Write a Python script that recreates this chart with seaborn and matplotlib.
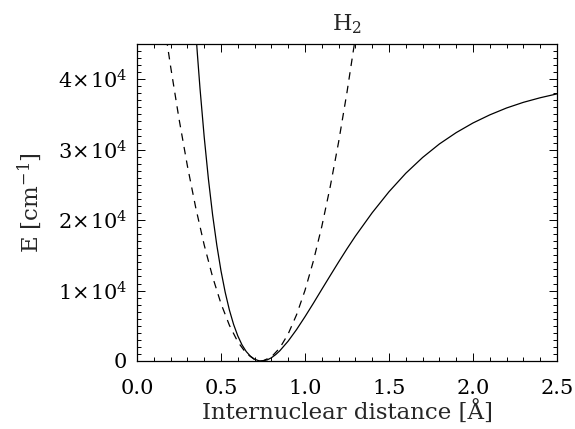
import matplotlib
matplotlib.use("Agg")
import matplotlib.pyplot as plt
from matplotlib.ticker import MultipleLocator, FixedLocator, FixedFormatter
import seaborn as sns
import pandas as pd

# Solid curve (potential)
morse_r = [0.35, 0.36, 0.375, 0.40, 0.425, 0.45, 0.475, 0.50, 0.525, 0.55, 0.575,
           0.60, 0.625, 0.65, 0.675, 0.70, 0.725, 0.742, 0.775, 0.80, 0.825, 0.85,
           0.90, 0.95, 1.00, 1.05, 1.10, 1.15, 1.20, 1.25, 1.30, 1.40, 1.50, 1.60,
           1.70, 1.80, 1.90, 2.00, 2.10, 2.20, 2.30, 2.40, 2.50]
morse_e = [46700, 43400, 38700, 31800, 25850, 20750, 16450, 12790, 9750, 7230, 5190,
           3560, 2290, 1350, 680, 250, 40, 0, 156, 460, 900, 1450,
           2830, 4470, 6290, 8200, 10170, 12120, 14050, 15930, 17730, 21050, 24030, 26650,
           28890, 30810, 32420, 33790, 34940, 35920, 36720, 37370, 37920]

# Dashed curve (harmonic approximation)
harm_r = [0.175, 0.20, 0.25, 0.30, 0.35, 0.40, 0.45, 0.50, 0.55, 0.60, 0.65, 0.70,
          0.737, 0.75, 0.80, 0.85, 0.90, 0.95, 1.00, 1.05, 1.10, 1.15, 1.20, 1.25, 1.30]
harm_e = [45800, 41810, 34390, 27690, 21720, 16470, 11940, 8145, 5070, 2720, 1100, 200,
          0, 25, 575, 1850, 3850, 6580, 10030, 14200, 19100, 24730, 31080, 38160, 45960]

ytick_vals = [0, 10000, 20000, 30000, 40000]
ytick_labels = ["0", r"$1\!\times\!10^{4}$", r"$2\!\times\!10^{4}$",
                r"$3\!\times\!10^{4}$", r"$4\!\times\!10^{4}$"]
xtick_vals = [0.0, 0.5, 1.0, 1.5, 2.0, 2.5]
xtick_labels = ["0.0", "0.5", "1.0", "1.5", "2.0", "2.5"]

sns.set_style("ticks")
plt.rcParams["font.family"] = ["DejaVu Serif"]
plt.rcParams["mathtext.fontset"] = "dejavuserif"

df_m = pd.DataFrame({"r": morse_r, "E": morse_e})
df_h = pd.DataFrame({"r": harm_r, "E": harm_e})

fig = plt.figure(figsize=(5.75, 4.29), dpi=100)
ax = fig.add_axes([137/575, 1-361/429, (557-137)/575, (361-44)/429])

sns.lineplot(data=df_m, x="r", y="E", ax=ax, color="black", lw=0.9, sort=False)
sns.lineplot(data=df_h, x="r", y="E", ax=ax, color="black", lw=0.9, sort=False,
             linestyle=(0, (6, 5)))

ax.set_xlim(0.0, 2.5)
ax.set_ylim(0, 45000)
ax.xaxis.set_major_locator(FixedLocator(xtick_vals))
ax.xaxis.set_major_formatter(FixedFormatter(xtick_labels))
ax.xaxis.set_minor_locator(MultipleLocator(0.1))
ax.yaxis.set_major_locator(FixedLocator(ytick_vals))
ax.yaxis.set_major_formatter(FixedFormatter(ytick_labels))
ax.yaxis.set_minor_locator(MultipleLocator(1000))

ax.tick_params(which="both", direction="in", top=True, right=True, color="black",
               width=0.7, labelsize=15, labelcolor="black")
ax.tick_params(axis="x", which="major", length=5.5, pad=13)
ax.tick_params(axis="y", which="major", length=5.5, pad=7)
ax.tick_params(which="minor", length=2.7)
for s in ax.spines.values():
    s.set_linewidth(0.9)
    s.set_color("black")

ax.set_xlabel("Internuclear distance [Å]", fontsize=16.5, labelpad=2)
ax.set_ylabel(r"E [cm$^{-1}$]", fontsize=16.5, labelpad=10)
ax.set_title(r"H$_{2}$", fontsize=16, pad=10)

fig.savefig("out.png", dpi=100)
